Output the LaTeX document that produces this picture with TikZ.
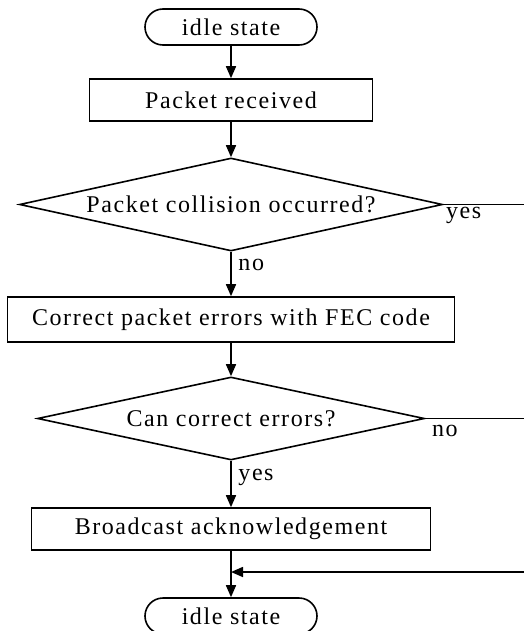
\documentclass[tikz,border=0pt]{standalone}
\usepackage{fontspec}
\setmainfont{Liberation Serif}[LetterSpace=6.5]
\usepackage{tikz}
\usetikzlibrary{arrows.meta,shapes.geometric,calc}

\begin{document}
\begin{tikzpicture}
        [   x = 0.5pt
        ,   y = -0.5pt
        ,   every node/.style =
            {   font = \fontsize{12}{14}\selectfont
            }
        ,   state/.style =
            {   draw
            ,   line width = 0.8pt
            ,   rounded corners = 9pt
            ,   minimum width = 86pt
            ,   minimum height = 18pt
            }
        ,   process/.style =
            {   draw
            ,   line width = 0.8pt
            ,   minimum height = 21pt
            }
        ,   decision/.style =
            {   draw
            ,   diamond
            ,   line width = 0.8pt
            ,   inner sep = 0pt
            }
        ,   flow/.style =
            {   -{Triangle[length=6pt,width=5pt]}
            ,   line width = 0.8pt
            }
        ,   link/.style =
            {   line width = 0.8pt
            }
        ]
        \useasboundingbox (0,0) rectangle (524,631);
        \node [state] (idle1) at (231,27) {idle state};
        \node [process, minimum width = 141.5pt] (recv) at (231,100) {Packet received};
        \node [decision, minimum width = 211.5pt, minimum height = 46.5pt, aspect = 4.55]
            (collision) at (231,204.5) {Packet collision occurred?};
        \node [process, minimum width = 223.5pt, minimum height = 22.5pt] (fec) at (231,319.5)
            {Correct packet errors with FEC code};
        \node [decision, minimum width = 193.5pt, minimum height = 41.5pt, aspect = 4.66]
            (correct) at (231,418.5) {Can correct errors?};
        \node [process, minimum width = 199.5pt] (ack) at (231,529) {Broadcast acknowledgement};
        \node [state] (idle2) at (231,616) {idle state};
        \coordinate (yesend) at (524,204.5);
        \coordinate (noend) at (524,418.5);
        \coordinate (back) at (524,572);
        \draw [flow] (idle1) -- (recv);
        \draw [flow] (recv) -- (collision);
        \draw [flow] (collision) -- node [right, pos = 0.3] {no} (fec);
        \draw [flow] (fec) -- (correct);
        \draw [flow] (correct) -- node [right, pos = 0.35] {yes} (ack);
        \draw [flow] (ack) -- (idle2);
        \draw [link] (collision.east) -- node [pos = 0, below right, inner sep = 1pt] {yes} (yesend);
        \draw [link] (correct.east) -- node [pos = 0, below right, inner sep = 3pt] {no} (noend);
        \draw [flow] (back) -- (back -| ack);
    \end{tikzpicture}
\end{document}
